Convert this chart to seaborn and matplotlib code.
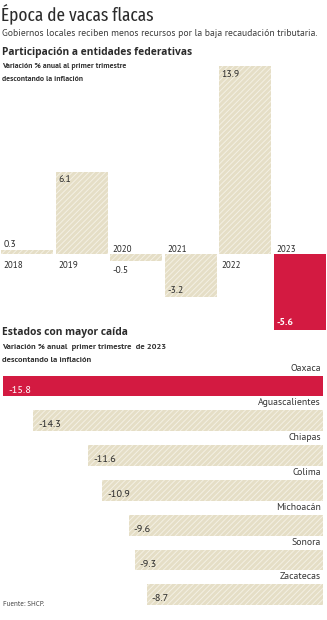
import matplotlib
matplotlib.use("Agg")
import matplotlib.pyplot as plt
import seaborn as sns
import pandas as pd

# --- data -------------------------------------------------------------
years = ["2018", "2019", "2020", "2021", "2022", "2023"]
participaciones = [0.3, 6.1, -0.5, -3.2, 13.9, -5.6]

states = ["Oaxaca", "Aguascalientes", "Chiapas", "Colima", "Michoacán", "Sonora", "Zacatecas"]
state_change = [-15.8, -14.3, -11.6, -10.9, -9.6, -9.3, -8.7]

title = "Época de vacas flacas"
subtitle = "Gobiernos locales reciben menos recursos por la baja recaudación tributaria."
top_heading = "Participación a entidades federativas"
top_note = ["Variación % anual al primer trimestre", "descontando la inflación"]
bottom_heading = "Estados con mayor caída"
bottom_note = ["Variación % anual  primer trimestre  de 2023", "descontando la inflación"]
source = "Fuente: SHCP."

# --- style ------------------------------------------------------------
RED = "#d31a41"
BEIGE = "#e5dec6"
STRIPE = "#f4f0e4"
INK = "#2b2b2b"

TITLE_FONT = ["Fira Sans Extra Condensed", "DejaVu Sans"]
HEAD_FONT = ["Open Sans", "DejaVu Sans"]
BODY_FONT = ["PT Sans", "Lato", "DejaVu Sans"]

sns.set_theme(style="white")
plt.rcParams["font.family"] = BODY_FONT
plt.rcParams["hatch.linewidth"] = 0.7
plt.rcParams["hatch.color"] = STRIPE

W, H = 327, 620
fig = plt.figure(figsize=(W / 100, H / 100), dpi=100)
fig.patch.set_facecolor("white")


def fx(px):
    return px / W


def fy(px):
    return 1 - px / H


def style_bars(ax, colors):
    for patch, c in zip(ax.patches, colors):
        patch.set_facecolor(c)
        patch.set_linewidth(0)
        if c == BEIGE:
            patch.set_hatch("//////")
            patch.set_edgecolor(STRIPE)
        else:
            patch.set_edgecolor(c)


# --- header -----------------------------------------------------------
fig.text(fx(1), fy(14), title, family=TITLE_FONT, fontsize=13.5, color=INK, va="center", ha="left")
fig.text(fx(2), fy(33), subtitle, fontsize=6.95, color="#3a3a3a", va="center", ha="left")
fig.text(fx(2), fy(52), top_heading, family=HEAD_FONT, fontweight="bold",
         fontsize=7.4, color=INK, va="center", ha="left")
for i, line in enumerate(top_note):
    fig.text(fx(2), fy(66 + 13.5 * i), line, fontsize=5.6, fontweight="bold",
             color="#333333", va="center", ha="left")

# --- top chart: yearly change -----------------------------------------
top_px, base_px, bot_px = 50, 254, 345
scale = 13.5  # pixels per percentage point
ax1 = fig.add_axes([0, fy(bot_px), 1, (bot_px - top_px) / H])
df_top = pd.DataFrame({"year": years, "value": participaciones})
top_colors = [RED if y == "2023" else BEIGE for y in years]
sns.barplot(data=df_top, x="year", y="value", hue="year", palette=top_colors,
            width=0.96, saturation=1, legend=False, ax=ax1)
style_bars(ax1, top_colors)
ax1.set_xlim(-0.5, len(years) - 0.5)
ax1.set_ylim(-(bot_px - base_px) / scale, (base_px - top_px) / scale)
ax1.axis("off")

u = 1 / scale  # one pixel in data units
for i, (yr, v) in enumerate(zip(years, participaciones)):
    x0 = i - 0.48 + 2.5 / 54
    txt_col = "white" if yr == "2023" else INK
    if v >= 0:
        ax1.text(x0, -11 * u, yr, fontsize=6.6, color=INK, va="center", ha="left")
        if v * scale > 14:
            ax1.text(x0, v - 8 * u, f"{v:.1f}", fontsize=7, color=txt_col, va="center", ha="left")
        else:
            ax1.text(x0, v + 5 * u, f"{v:.1f}", fontsize=7, color=txt_col, va="center", ha="left")
    else:
        ax1.text(x0, 5 * u, yr, fontsize=6.6, color=INK, va="center", ha="left")
        lab = f"{v:.1f}"
        if -v * scale > 14:
            ax1.text(x0, v + 7 * u, lab, fontsize=7, color=txt_col, va="center", ha="left",
                     fontweight="bold" if yr == "2023" else "normal")
        else:
            ax1.text(x0, v - 10 * u, lab, fontsize=7, color=txt_col, va="center", ha="left")

# --- bottom chart: states with the largest drop -----------------------
fig.text(fx(2), fy(333), bottom_heading, family=HEAD_FONT, fontweight="bold",
         fontsize=7.4, color=INK, va="center", ha="left")
for i, line in enumerate(bottom_note):
    fig.text(fx(2), fy(347 + 13.5 * i), line, fontsize=6.1, fontweight="bold",
             color="#333333", va="center", ha="left")

row0, step = 386, 34.8
top2 = row0 - step / 2
bot2 = row0 + step * (len(states) - 0.5)
ax2 = fig.add_axes([0, fy(bot2), 1, (bot2 - top2) / H])
df_bot = pd.DataFrame({"state": states, "value": state_change})
bot_colors = [RED] + [BEIGE] * (len(states) - 1)
sns.barplot(data=df_bot, x="value", y="state", hue="state", palette=bot_colors,
            orient="h", width=0.6, saturation=1, legend=False, ax=ax2)
style_bars(ax2, bot_colors)
xscale = 20.25  # pixels per percentage point
ax2.set_xlim(-323 / xscale, 4 / xscale)
ax2.set_ylim(len(states) - 0.5, -0.5)
ax2.axis("off")

for i, (st, v) in enumerate(zip(states, state_change)):
    ax2.text(-2 / xscale, i - 18 / step, st, fontsize=7, color="#333333",
             va="center", ha="right", clip_on=False)
    ax2.text(v + 5 / xscale, i + 4 / step, f"{v:.1f}", fontsize=7.4,
             color="white" if i == 0 else INK, va="center", ha="left")

fig.text(fx(3), fy(604), source, fontsize=5, color="#444444", va="center", ha="left")

fig.savefig("out.png", dpi=100, facecolor="white")
